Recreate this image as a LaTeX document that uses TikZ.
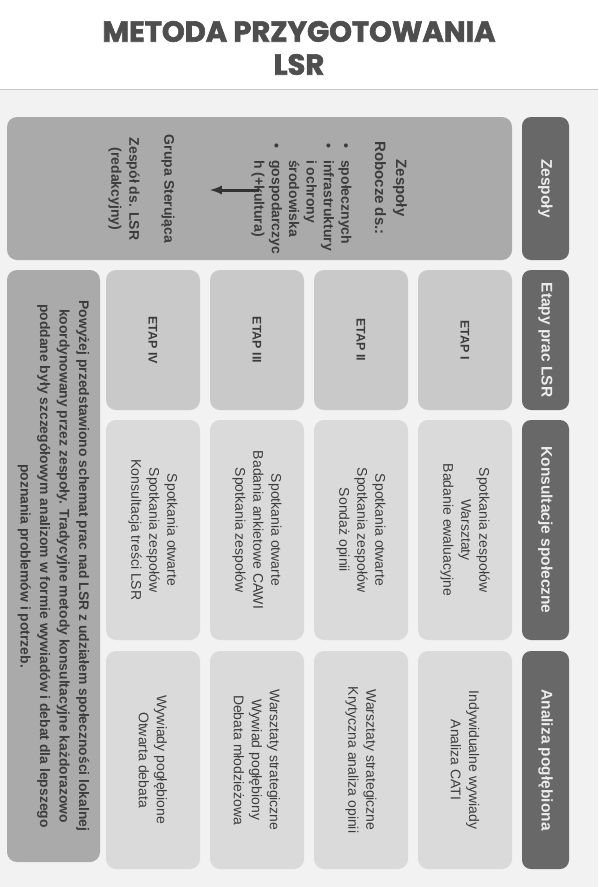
\documentclass[tikz,border=0pt]{standalone}
\usepackage{fontspec}
\setmainfont{Liberation Sans}
\newfontfamily\titlefont{Poppins}[BoldFeatures={FakeBold=2.2}]
\usetikzlibrary{arrows}

\definecolor{titlegray}{HTML}{4E4E4E}
\definecolor{pagegray}{HTML}{F2F2F2}
\definecolor{headgray}{HTML}{686868}
\definecolor{headtext}{HTML}{ECECEC}
\definecolor{teamgray}{HTML}{AAAAAA}
\definecolor{stagegray}{HTML}{C9C9C9}
\definecolor{cellgray}{HTML}{DADADA}
\definecolor{bodytext}{HTML}{3C3C3C}
\definecolor{arrowgray}{HTML}{333333}

\begin{document}
\begin{tikzpicture}
%Metoda przygotowania LSR
	[
	 %Styles
	 x=1pt, y=-1pt,
	 title_text/.style={align=center,text=titlegray,font=\titlefont\bfseries\fontsize{29}{33}\selectfont},
	 head_box/.style={rectangle,rounded corners=9pt,fill=headgray,text=headtext,
	    font=\bfseries\fontsize{15.5}{18}\selectfont,rotate=-90,minimum height=47pt,inner sep=0pt},
	 team_box/.style={rectangle,rounded corners=10pt,fill=teamgray,rotate=-90,inner sep=0pt},
	 team_text/.style={rotate=-90,text=bodytext,align=center,inner sep=0pt,
	    font=\bfseries\fontsize{14}{17.4}\selectfont},
	 stage_box/.style={rectangle,rounded corners=10pt,fill=stagegray,text=bodytext,
	    font=\bfseries\fontsize{12.5}{15}\selectfont,rotate=-90,
	    minimum width=140pt,minimum height=94pt,inner sep=0pt},
	 cell_box/.style={rectangle,rounded corners=10pt,fill=cellgray,text=bodytext,align=center,
	    font=\fontsize{14}{18}\selectfont,rotate=-90,minimum height=94pt,inner sep=0pt},
	 note_box/.style={rectangle,rounded corners=10pt,fill=teamgray,text=bodytext,align=center,
	    font=\bfseries\fontsize{13.9}{19.5}\selectfont,rotate=-90,
	    minimum width=592pt,minimum height=93pt,inner sep=0pt},
	 arrow_line/.style={-latex,line width=3pt,draw=arrowgray}
	]

	%Page
	\useasboundingbox (0,0) rectangle (598,887);
	\fill[pagegray] (0,89) rectangle (598,887);
	\draw[gray!45,line width=0.8pt] (0,89) -- (598,89);
	\node (title) [title_text] at (299,48) {METODA PRZYGOTOWANIA\\LSR};

	%Headers
	\node (zespoly_head) [head_box,minimum width=143pt] at (545.5,188.5) {Zespoły};
	\node (etapy_head) [head_box,minimum width=140pt] at (545.5,340) {Etapy prac LSR};
	\node (konsultacje_head) [head_box,minimum width=220pt] at (545.5,530) {Konsultacje społeczne};
	\node (analiza_head) [head_box,minimum width=218pt] at (545.5,760) {Analiza pogłębiona};

	%Teams
	\node (team_area) [team_box,minimum width=143pt,minimum height=505pt] at (259.5,188.5) {};
	\node (team_title) [team_text,font=\bfseries\fontsize{15}{21}\selectfont] at (391,188) {Zespoły\\Robocze ds.:};
	\node (team_list) [team_text,align=left,anchor=west] at (301.5,143)
	   {\makebox[17pt][l]{\textbullet}społecznych\\
	    \makebox[17pt][l]{\textbullet}infrastruktury\\
	    \makebox[17pt][l]{}i ochrony\\
	    \makebox[17pt][l]{}środowiska\\
	    \makebox[17pt][l]{\textbullet}gospodarczyc\\
	    \makebox[17pt][l]{}h (+kultura)};
	\node (steering) [team_text] at (168,189) {Grupa Sterująca};
	\node (editors) [team_text,font=\bfseries\fontsize{14}{18}\selectfont] at (124,189) {Zespół ds. LSR\\(redakcyjny)};
	\coordinate (arrow_from) at (259,190);
	\coordinate (arrow_to) at (210,190);

	%Stages
	\node (stage1) [stage_box] at (465,340) {ETAP I};
	\node (stage2) [stage_box] at (361,340) {ETAP II};
	\node (stage3) [stage_box] at (257,340) {ETAP III};
	\node (stage4) [stage_box] at (153,340) {ETAP IV};

	%Consultations
	\node (cons1) [cell_box,minimum width=220pt] at (465,530) {Spotkania zespołów\\Warsztaty\\Badanie ewaluacyjne};
	\node (cons2) [cell_box,minimum width=220pt] at (361,530) {Spotkania otwarte\\Spotkania zespołów\\Sondaż opinii};
	\node (cons3) [cell_box,minimum width=220pt] at (257,530) {Spotkania otwarte\\Badania ankietowe CAWI\\Spotkania zespołów};
	\node (cons4) [cell_box,minimum width=220pt] at (153,530) {Spotkania otwarte\\Spotkania zespołów\\Konsultacja treści LSR};

	%Analysis
	\node (anal1) [cell_box,minimum width=218pt] at (465,760) {Indywidualne wywiady\\Analiza CATI};
	\node (anal2) [cell_box,minimum width=218pt] at (361,760) {Warsztaty strategiczne\\Krytyczna analiza opinii};
	\node (anal3) [cell_box,minimum width=218pt] at (257,760) {Warsztaty strategiczne\\Wywiad pogłębiony\\Debata młodzieżowa};
	\node (anal4) [cell_box,minimum width=218pt] at (153,760) {Wywiady pogłębione\\Otwarta debata};

	%Note
	\node (note) [note_box] at (53.5,566)
	   {Powyżej przedstawiono schemat prac nad LSR z udziałem społeczności lokalnej\\
	    koordynowany przez zespoły. Tradycyjne metody konsultacyjne każdorazowo\\
	    poddane były szczegółowym analizom w formie wywiadów i debat dla lepszego\\
	    poznania problemów i potrzeb.};

	%Edges
	\draw[arrow_line] (arrow_from) -- (arrow_to);
\end{tikzpicture}
\end{document}
